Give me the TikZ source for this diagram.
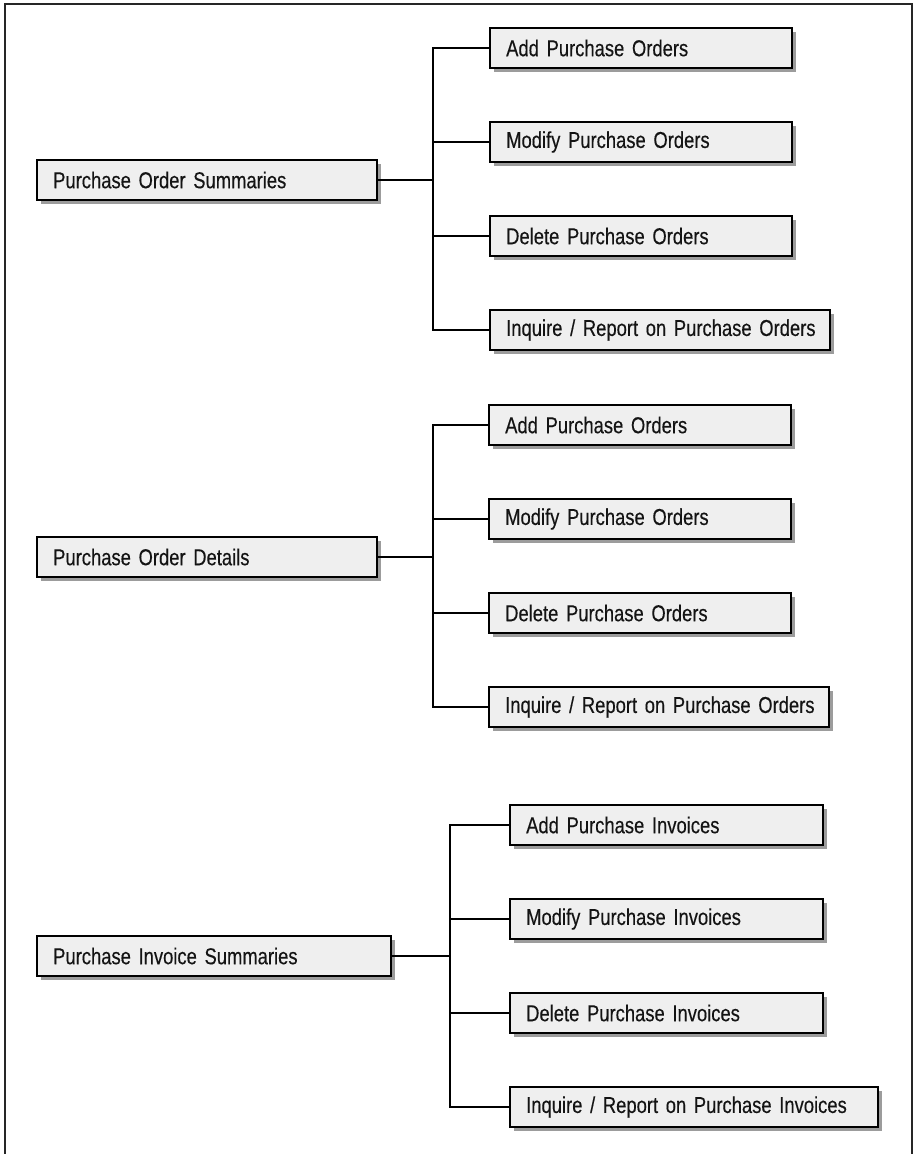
\documentclass[tikz,border=0pt]{standalone}
\usepackage{fontspec}
\setmainfont[FakeStretch=0.8, WordSpace=0.65, FakeBold=0.3]{Liberation Sans}
\usetikzlibrary{positioning, shadows}
\definecolor{boxfill}{HTML}{EFEFEF}
\definecolor{shadowgray}{HTML}{9C9C9C}

\begin{document}
\begin{tikzpicture}[x=1pt, y=-1pt,
    menubox/.style={draw=black, fill=boxfill, line width=2.4pt, minimum height=40pt, inner xsep=16pt, anchor=west, align=left, text=black!92, font=\fontsize{23}{26}\selectfont, drop shadow={shadow xshift=3.5pt, shadow yshift=-3.5pt, fill=shadowgray, opacity=1}},
    link/.style={draw=black, line width=2pt},
    frame/.style={draw=black!85, line width=2pt}]
      \useasboundingbox (0,0) rectangle (914,1154);
      \draw[frame] (5,1154) |- (911.5,3.5) -- (911.5,1154);

      % Purchase order summaries
      \node[menubox, text width=308pt] (pos) at (36,180) {\mbox{Purchase Order Summaries}};
      \node[menubox, text width=270pt] (posadd) at (489,48) {\mbox{Add Purchase Orders}};
      \node[menubox, text width=270pt] (posmod) at (489,142) {\mbox{Modify Purchase Orders}};
      \node[menubox, text width=270pt] (posdel) at (489,236) {\mbox{Delete Purchase Orders}};
      \node[menubox, text width=308pt] (posinq) at (489,330) {\mbox{Inquire / Report on Purchase Orders}};
      \coordinate (posjoin) at ([xshift=55pt]pos.east);

      % Purchase order details
      \node[menubox, text width=308pt] (pod) at (36,557) {\mbox{Purchase Order Details}};
      \node[menubox, text width=270pt] (podadd) at (488,425) {\mbox{Add Purchase Orders}};
      \node[menubox, text width=270pt] (podmod) at (488,519) {\mbox{Modify Purchase Orders}};
      \node[menubox, text width=270pt] (poddel) at (488,613) {\mbox{Delete Purchase Orders}};
      \node[menubox, text width=308pt] (podinq) at (488,707) {\mbox{Inquire / Report on Purchase Orders}};
      \coordinate (podjoin) at ([xshift=55pt]pod.east);

      % Purchase invoice summaries
      \node[menubox, text width=322pt] (pis) at (36,956) {\mbox{Purchase Invoice Summaries}};
      \node[menubox, text width=281pt] (pisadd) at (509,825) {\mbox{Add Purchase Invoices}};
      \node[menubox, text width=281pt] (pismod) at (509,919) {\mbox{Modify Purchase Invoices}};
      \node[menubox, text width=281pt] (pisdel) at (509,1013) {\mbox{Delete Purchase Invoices}};
      \node[menubox, text width=336pt] (pisinq) at (509,1107) {\mbox{Inquire / Report on Purchase Invoices}};
      \coordinate (pisjoin) at ([xshift=58pt]pis.east);

      % Connections
      \draw[link] (pos.east) -- (posjoin);
      \draw[link] (posjoin) |- (posadd.west);
      \draw[link] (posjoin) |- (posmod.west);
      \draw[link] (posjoin) |- (posdel.west);
      \draw[link] (posjoin) |- (posinq.west);
      \draw[link] (pod.east) -- (podjoin);
      \draw[link] (podjoin) |- (podadd.west);
      \draw[link] (podjoin) |- (podmod.west);
      \draw[link] (podjoin) |- (poddel.west);
      \draw[link] (podjoin) |- (podinq.west);
      \draw[link] (pis.east) -- (pisjoin);
      \draw[link] (pisjoin) |- (pisadd.west);
      \draw[link] (pisjoin) |- (pismod.west);
      \draw[link] (pisjoin) |- (pisdel.west);
      \draw[link] (pisjoin) |- (pisinq.west);
\end{tikzpicture}
\end{document}
